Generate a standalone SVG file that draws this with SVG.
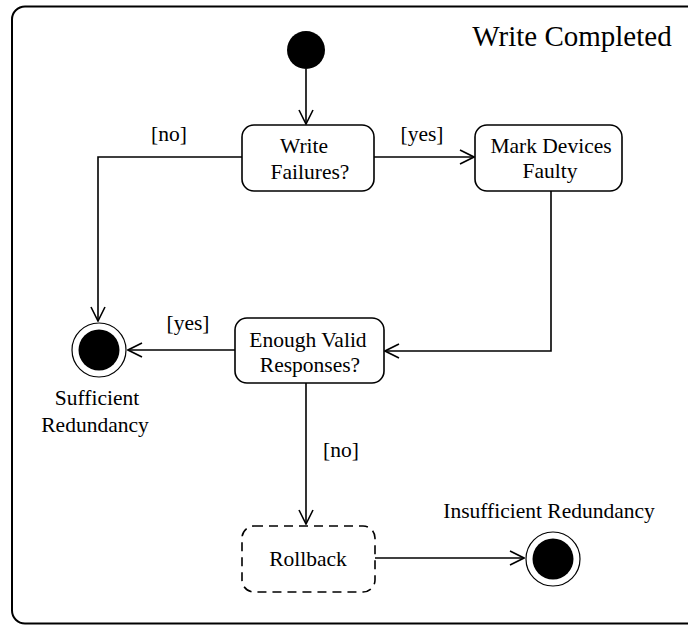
<svg xmlns="http://www.w3.org/2000/svg" width="688" height="626" viewBox="0 0 688 626">
<defs>
<style>
.lbl{font-size:21.5px}
.node{fill:#fff;stroke:#000;stroke-width:1.6}
.edge{fill:none;stroke:#000;stroke-width:1.6}
</style>
<marker id="arr" markerWidth="16" markerHeight="16" refX="15" refY="8" orient="auto" markerUnits="userSpaceOnUse">
<path d="M1,1 L15,8 L1,15" fill="none" stroke="#000" stroke-width="1.6"/>
</marker>
</defs>
<rect x="0" y="0" width="688" height="626" fill="#fff"/>
<g font-family="'Liberation Serif', 'Times New Roman', 'DejaVu Serif', serif" text-anchor="middle" fill="#000">
<g id="frame">
<rect x="12" y="6.5" width="700" height="617" rx="13" fill="none" stroke="#000" stroke-width="2"/>
<text x="572" y="46" font-size="29">Write Completed</text>
</g>
<g id="connectors">
<path class="edge" d="M306,69 L306,124" marker-end="url(#arr)"/>
<path class="edge" d="M374,157 L474,157" marker-end="url(#arr)"/>
<path class="edge" d="M242,157 L98,157 L98,321" marker-end="url(#arr)"/>
<path class="edge" d="M551,191 L551,351 L385,351" marker-end="url(#arr)"/>
<path class="edge" d="M235,350 L128,350" marker-end="url(#arr)"/>
<path class="edge" d="M306,383 L306,524" marker-end="url(#arr)"/>
<path class="edge" d="M375,558 L524,558" marker-end="url(#arr)"/>
<text class="lbl" x="422" y="141">[yes]</text>
<text class="lbl" x="169" y="141">[no]</text>
<text class="lbl" x="188" y="330">[yes]</text>
<text class="lbl" x="341" y="457">[no]</text>
</g>
<g id="initial">
<circle cx="306" cy="50" r="19" fill="#000"/>
</g>
<g id="write-failures">
<rect class="node" x="242" y="125" width="132" height="66" rx="12"/>
<text class="lbl" x="304" y="153">Write</text>
<text class="lbl" x="310" y="179">Failures?</text>
</g>
<g id="mark-devices">
<rect class="node" x="475" y="125" width="147" height="66" rx="12"/>
<text class="lbl" x="551" y="153">Mark Devices</text>
<text class="lbl" x="550" y="178">Faulty</text>
</g>
<g id="enough-valid">
<rect class="node" x="235" y="318" width="149" height="65" rx="12"/>
<text class="lbl" x="308" y="347">Enough Valid</text>
<text class="lbl" x="310" y="372">Responses?</text>
</g>
<g id="rollback">
<rect class="node" x="242" y="526" width="133" height="66" rx="12" style="stroke-dasharray:9,6"/>
<text class="lbl" x="308" y="566">Rollback</text>
</g>
<g id="sufficient">
<circle cx="99" cy="350" r="27" fill="#fff" stroke="#000" stroke-width="1.2"/>
<circle cx="99" cy="350" r="20.5" fill="#000"/>
<text class="lbl" x="97" y="405">Sufficient</text>
<text class="lbl" x="95" y="432">Redundancy</text>
</g>
<g id="insufficient">
<circle cx="553" cy="559" r="27" fill="#fff" stroke="#000" stroke-width="1.2"/>
<circle cx="553" cy="559" r="20.5" fill="#000"/>
<text class="lbl" x="549" y="518">Insufficient Redundancy</text>
</g>
</g>
</svg>
